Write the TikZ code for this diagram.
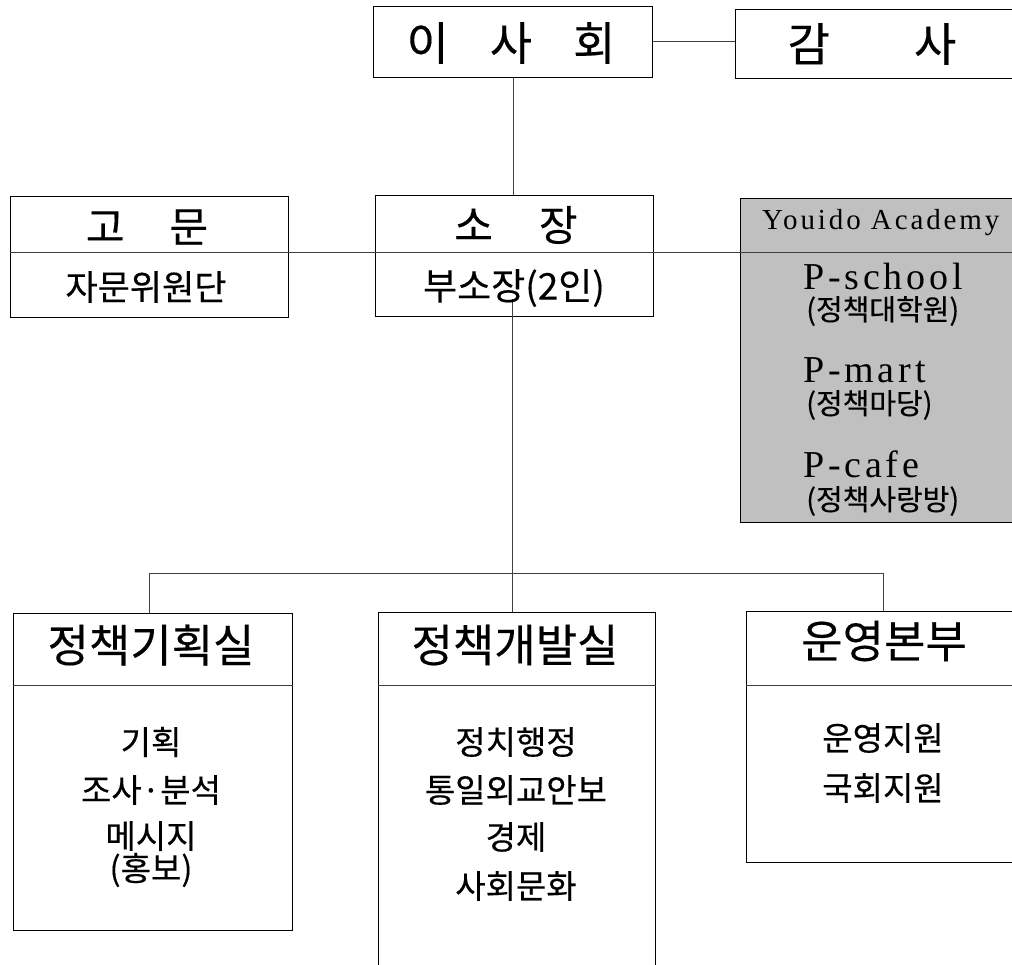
\documentclass[tikz,border=0pt]{standalone}
\usepackage{fontspec}
\setmainfont{Noto Sans CJK KR}[FakeBold=0.3]
\newfontfamily\latfont{Liberation Serif}[LetterSpace=10]
\newcommand\myfs[1]{\fontsize{#1}{#1}\selectfont}
\tikzset{
  orgbox/.style={draw=black, line width=1.4pt, rectangle, anchor=north west, inner sep=0pt},
  grayfill/.style={fill={rgb,255:red,192;green,192;blue,192}},
  conn/.style={draw=black!75, line width=0.9pt},
  divider/.style={draw=black!75, line width=0.9pt},
  txt/.style={inner sep=0pt, anchor=center},
}
\begin{document}
\begin{tikzpicture}[x=1pt,y=-1pt]
\clip (0,0) rectangle (1012,964);
\fill[white] (0,0) rectangle (1012,964);

% boxes
\node[orgbox, minimum width=279pt, minimum height=71pt] (isa) at (373,6) {};
\node[orgbox, minimum width=290pt, minimum height=69pt] (gamsa) at (735,9) {};
\node[orgbox, minimum width=278pt, minimum height=121pt] (gomun) at (10,196) {};
\node[orgbox, minimum width=278pt, minimum height=121pt] (sojang) at (375,195) {};
\node[orgbox, grayfill, minimum width=290pt, minimum height=324pt] (youido) at (740,198) {};
\node[orgbox, minimum width=279pt, minimum height=317pt] (pk) at (13,613) {};
\node[orgbox, minimum width=277pt, minimum height=370pt] (pd) at (378,612) {};
\node[orgbox, minimum width=290pt, minimum height=251pt] (uy) at (746,611) {};

% dividers
\draw[divider] (gomun.west |- 0,252) -- (gomun.east |- 0,252);
\draw[divider] (sojang.west |- 0,252) -- (sojang.east |- 0,252);
\draw[divider] (youido.west |- 0,252) -- (youido.east |- 0,252);
\draw[divider] (pk.west |- 0,685) -- (pk.east |- 0,685);
\draw[divider] (pd.west |- 0,685) -- (pd.east |- 0,685);
\draw[divider] (uy.west |- 0,685) -- (uy.east |- 0,685);

% connectors
\coordinate (jn) at (512,573);
\coordinate (jl) at (149,573);
\coordinate (jr) at (883,573);
\draw[conn] (isa.east |- 0,41) -- (gamsa.west |- 0,41);
\draw[conn] (isa.south -| 513,0) -- (sojang.north -| 513,0);
\draw[conn] (gomun.east |- 0,252) -- (sojang.west |- 0,252);
\draw[conn] (sojang.east |- 0,252) -- (youido.west |- 0,252);
\draw[conn] ([yshift=18pt]sojang.south -| jn) -- (jn);
\draw[conn] (jl) -- (jr);
\draw[conn] (jl) -- (jl |- pk.north);
\draw[conn] (jn) -- (jn |- pd.north);
\draw[conn] (jr) -- (jr |- uy.north);

% texts
\node[txt, font=\myfs{46}] (tisa) at (511,43) {이\hspace{41pt}사\hspace{41pt}회};
\node[txt, font=\myfs{46}] (tgamsa) at (872,44) {감\hspace{84pt}사};
\node[txt, font=\myfs{42}] (tgomun) at (147,227) {고\hspace{45pt}문};
\node[txt, font=\myfs{35}] (tjamun) at (146,287) {자문위원단};
\node[txt, font=\myfs{42}] (tsojang) at (516,225) {소\hspace{46pt}장};
\node[txt, font=\myfs{37}] (tbuso) at (514,288) {부소장(2인)};

\node[txt, anchor=west, font=\latfont\myfs{29}] (tyouido) at (762,223) {Youido Academy};
\node[inner sep=0pt, anchor=base west, font=\latfont\myfs{38}] (tps) at (803,289) {P-school};
\node[inner sep=0pt, anchor=west, font=\myfs{29}] (tps2) at (806,311) {(정책대학원)};
\node[inner sep=0pt, anchor=base west, font=\latfont\myfs{38}] (tpm) at (803,382) {P-mart};
\node[inner sep=0pt, anchor=west, font=\myfs{29}] (tpm2) at (806,405) {(정책마당)};
\node[inner sep=0pt, anchor=base west, font=\latfont\myfs{38}] (tpc) at (803,477) {P-cafe};
\node[inner sep=0pt, anchor=west, font=\myfs{29}] (tpc2) at (806,501) {(정책사랑방)};

\node[txt, font=\myfs{45}] (tpk) at (151,645) {정책기획실};
\node[txt, font=\myfs{45}] (tpd) at (515,645) {정책개발실};
\node[txt, font=\myfs{45}] (tuy) at (884,641) {운영본부};

\node[txt, font=\myfs{33}] (pk1) at (151,742) {기획};
\node[txt, font=\myfs{33}] (pk2) at (151,790) {조사·분석};
\node[txt, font=\myfs{33}] (pk3) at (151,836) {메시지};
\node[txt, font=\myfs{33}] (pk4) at (151,870) {(홍보)};

\node[txt, font=\myfs{33}] (pd1) at (516,742) {정치행정};
\node[txt, font=\myfs{33}] (pd2) at (516,790) {통일외교안보};
\node[txt, font=\myfs{33}] (pd3) at (516,837) {경제};
\node[txt, font=\myfs{33}] (pd4) at (516,886) {사회문화};

\node[txt, font=\myfs{33}] (uy1) at (883,738) {운영지원};
\node[txt, font=\myfs{33}] (uy2) at (883,788) {국회지원};
\end{tikzpicture}
\end{document}
